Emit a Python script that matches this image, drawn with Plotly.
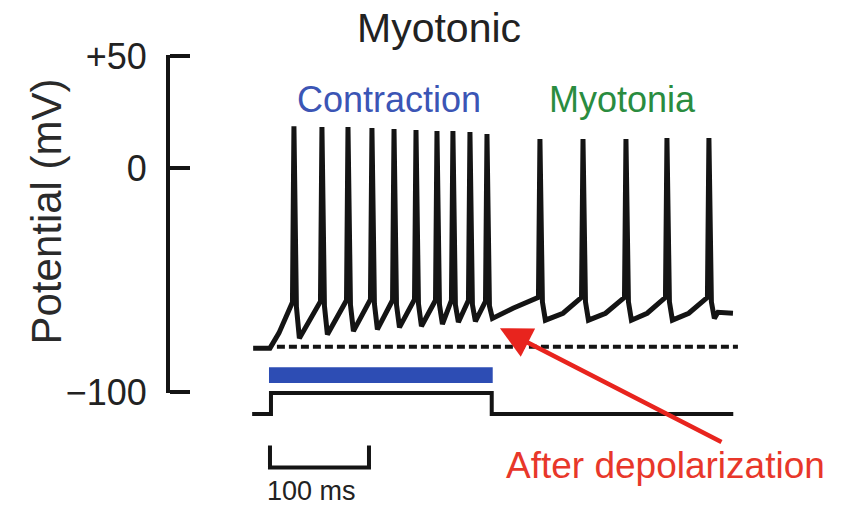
import plotly.graph_objects as go

# ---------------- data ----------------
# action potential spikes: time (ms), peak (mV), pre-spike threshold (mV), post-spike trough (mV)
spike_t = [24.2, 52.5, 78.8, 103.0, 125.3, 147.5, 168.7, 184.8, 202.0, 219.2,
           272.7, 316.2, 359.6, 401.0, 443.4]
spike_peak = [18.8, 18.4, 18.4, 18.0, 17.5, 17.1, 16.6, 16.6, 16.2, 15.3,
              13.1, 13.1, 13.1, 13.5, 13.5]
spike_thr = [-59.9, -59.5, -59.0, -58.6, -59.0, -58.6, -59.0, -59.0, -59.0, -59.5,
             -57.7, -57.7, -57.7, -57.7, -57.7]
spike_trough = [-76.0, -74.3, -72.8, -72.0, -71.1, -70.6, -69.7, -68.8, -68.4, -67.1,
                -67.9, -67.9, -67.9, -67.9, -67.1]

# other points of the membrane potential trace (onset, after-depolarization, myotonia ramps, tail)
extra_t = [-17.0, 0.0, 9.0, 16.0, 245.5, 296.0, 339.0, 381.0, 423.0, 452.5, 467.7]
extra_v = [-80.4, -80.4, -73.7, -67.1, -62.6, -64.8, -64.8, -64.8, -64.8, -64.4, -64.8]

# resting potential (dashed reference)
rest_t = [7.0, 472.7]
rest_v = [-79.8, -79.8]

# stimulus (step current), arbitrary units
stim_t = [-18.0, 1.0, 224.0, 468.0]
stim_level = [0, 1, 0, 0]

# contraction period (blue bar)
contraction_t = [-1.0, 225.0]

# scale bar
scale_ms = 100

# y axis ticks
y_tickvals = [-100, 0, 50]
y_ticktext = ["\u2212100", "0", "+50"]

# ---------------- build trace ----------------
pts = list(zip(extra_t, extra_v))
for t, pk, th, tr in zip(spike_t, spike_peak, spike_thr, spike_trough):
    pts += [(t - 1.5, th), (t, pk), (t + 2.5, th - 2.0), (t + 5.5, tr)]
pts.sort(key=lambda p: p[0])
trace_t = [p[0] for p in pts]
trace_v = [p[1] for p in pts]

# ---------------- layout helpers ----------------
W, H = 850, 521
ML, MR, MT, MB = 170, 90, 55, 46
PW, PH = W - ML - MR, H - MT - MB
MV_PX = 337 / 150.0   # pixels per mV on the main axis
Y_RANGE = [-100.6, 50.6]


def px(xp):
    return (xp - ML) / PW


def py(yp):
    return (H - MB - yp) / PH


FONT = "Liberation Sans, Arial, Helvetica, sans-serif"
BLACK = "#141414"

fig = go.Figure()

fig.add_trace(go.Scatter(x=rest_t, y=rest_v, mode="lines",
                         line=dict(color=BLACK, width=4, dash="8px,4px"),
                         hoverinfo="skip", showlegend=False))
fig.add_trace(go.Scatter(x=trace_t, y=trace_v, mode="lines",
                         line=dict(color=BLACK, width=5),
                         showlegend=False))
fig.add_trace(go.Scatter(x=stim_t, y=stim_level, mode="lines", yaxis="y2",
                         line=dict(color=BLACK, width=4, shape="hv"),
                         showlegend=False))
fig.add_trace(go.Scatter(x=[0, 0, scale_ms, scale_ms], y=[-1.5, -2.55, -2.55, -1.5],
                         mode="lines", yaxis="y2",
                         line=dict(color=BLACK, width=4),
                         showlegend=False))

fig.add_shape(type="rect", xref="x", yref="y",
              x0=contraction_t[0], x1=contraction_t[1], y0=-96.0, y1=-88.9,
              fillcolor="#2d4db4", line=dict(width=0))

anns = [
    dict(text="Myotonic", x=px(439), y=py(27.5), size=41, color="#222222"),
    dict(text="Contraction", x=px(388.5), y=py(100), size=36, color="#3b55b5"),
    dict(text="Myotonia", x=px(622), y=py(100), size=36, color="#2a8c3f"),
    dict(text="After depolarization", x=px(665), y=py(465), size=37, color="#e8372a"),
    dict(text="100 ms", x=px(311), y=py(491), size=27, color="#222222"),
]
for a in anns:
    fig.add_annotation(text=a["text"], x=a["x"], y=a["y"], xref="paper", yref="paper",
                       xanchor="center", yanchor="middle", showarrow=False,
                       font=dict(family=FONT, size=a["size"], color=a["color"]))

fig.add_annotation(text="Potential (mV)", x=px(46), y=py(211.5), xref="paper", yref="paper",
                   textangle=-90, xanchor="center", yanchor="middle", showarrow=False,
                   font=dict(family=FONT, size=42, color="#2a2a2a"))

# red arrow pointing at the after-depolarization
fig.add_annotation(text="", x=232.3, y=-71.5, xref="x", yref="y",
                   ax=457.6, ay=-122.7, axref="x", ayref="y",
                   showarrow=True, arrowhead=2, arrowsize=1.4, arrowwidth=4.5,
                   arrowcolor="#e8241e", standoff=0)

top_px = 55 - (Y_RANGE[1] - 50) * MV_PX
bot_px = 392 + (-100 - Y_RANGE[0]) * MV_PX

fig.update_layout(
    width=W, height=H,
    margin=dict(l=ML, r=MR, t=MT, b=MB),
    paper_bgcolor="white", plot_bgcolor="rgba(0,0,0,0)",
    showlegend=False,
    xaxis=dict(visible=False, range=[-101, 495], fixedrange=True),
    yaxis=dict(domain=[py(bot_px), min(1, py(top_px))], range=Y_RANGE,
               showline=True, linewidth=4, linecolor=BLACK,
               ticks="inside", ticklen=20, tickwidth=4, tickcolor=BLACK,
               tickvals=y_tickvals, ticktext=y_ticktext,
               tickfont=dict(family=FONT, size=36, color="#222222"),
               ticklabelstandoff=12,
               showgrid=False, zeroline=False, fixedrange=True),
    yaxis2=dict(domain=[0, 0.35], range=[-2.905, 4.095], anchor="x",
                visible=False, fixedrange=True),
)

fig.write_html("out.html")
